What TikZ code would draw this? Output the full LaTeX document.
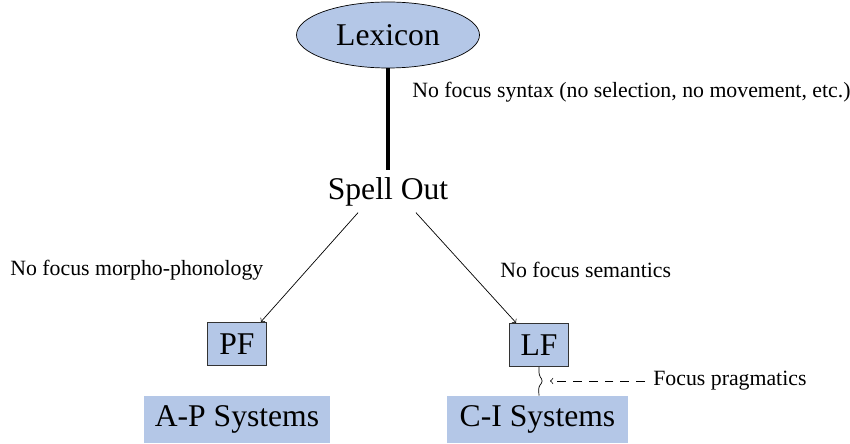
\documentclass[tikz,border=0pt]{standalone}
\usepackage{fontspec}
\setmainfont{Liberation Serif}
\usetikzlibrary{shapes.geometric}
\definecolor{sysblue}{HTML}{B4C7E7}

\begin{document}
\begin{tikzpicture}[>=to,
	big/.style={font=\fontsize{18}{20}\selectfont},
	small/.style={font=\fontsize{12.4}{14}\selectfont, inner sep=0pt},
	level/.style={big, draw=black!80, fill=sysblue, minimum width=1.18cm, minimum height=0.87cm, inner sep=0pt},
	system/.style={big, fill=sysblue, minimum height=0.94cm, inner sep=0pt}]
	\useasboundingbox (0,0) rectangle (17,8.86);

	%main nodes
	\node[ellipse, draw, fill=sysblue, big, minimum width=3.66cm, minimum height=1.32cm, inner sep=0pt] (lex) at (7.76,8.16) {Lexicon};
	\node[big, inner sep=0.12cm] (spell) at (7.76,5.02) {Spell Out};
	\node[level] (pf) at (4.74,1.98) {PF};
	\node[level] (lf) at (10.78,1.96) {LF};
	\node[system, minimum width=3.72cm] (aps) at (4.74,0.47) {A-P Systems};
	\node[system, minimum width=3.62cm] (cis) at (10.75,0.47) {C-I Systems};

	%labels
	\node[small, anchor=west] (syntax) at (8.24,7.02) {No focus syntax (no selection, no movement, etc.)};
	\node[small, anchor=west] (morpho) at (0.2,3.46) {No focus morpho-phonology};
	\node[small, anchor=west] (sem) at (10.0,3.46) {No focus semantics};
	\node[small, anchor=west] (prag) at (13.06,1.24) {Focus pragmatics};
	\coordinate (tip) at (11.0,1.24);

	%connectors
	\draw[line width=2pt] (lex.south) -- ([yshift=0.02cm]spell.north);
	\draw[->] ([xshift=-0.6cm]spell.south) -- ([xshift=-0.12cm]pf.north east);
	\draw[->] ([xshift=0.56cm]spell.south) -- ([xshift=0.14cm]lf.north west);

	%wavy line to C-I
	\draw[rounded corners=1.5pt] (lf.south) -- ++(0,-0.16) -- ++(0.08,-0.12) -- ++(-0.09,-0.12) -- (cis.north -| lf.south);
	\draw[->, dash pattern=on 5pt off 4pt] (prag.west) ++(-0.16,0) -- (tip);
\end{tikzpicture}
\end{document}
